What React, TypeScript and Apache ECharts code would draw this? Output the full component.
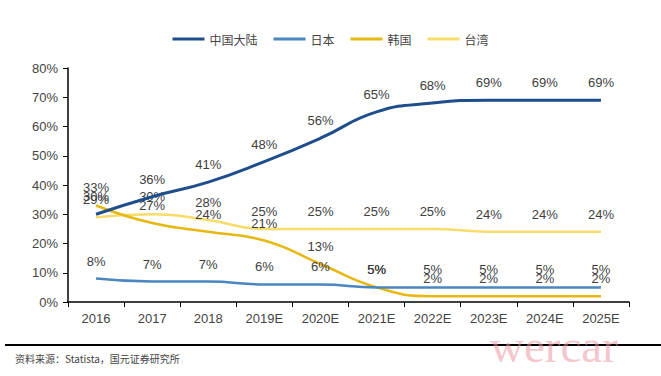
import React, { useEffect, useRef } from "react";
import * as echarts from "echarts";

const categories = ["2016", "2017", "2018", "2019E", "2020E", "2021E", "2022E", "2023E", "2024E", "2025E"];
const chinaMainland = [30, 36, 41, 48, 56, 65, 68, 69, 69, 69];
const japan = [8, 7, 7, 6, 6, 5, 5, 5, 5, 5];
const korea = [33, 27, 24, 21, 13, 5, 2, 2, 2, 2];
const taiwan = [29, 30, 28, 25, 25, 25, 25, 24, 24, 24];
const seriesNames = ["中国大陆", "日本", "韩国", "台湾"];
const seriesColors = ["#1F4E8C", "#4A86C0", "#E8B812", "#F7DC6A"];
const sourceText = "资料来源：Statista，国元证券研究所";

export default function App() {
  const ref = useRef<HTMLDivElement>(null);
  useEffect(() => {
    document.body.style.margin = "0";
    const chart = echarts.init(ref.current!, null, { renderer: "svg" });
    const font = "Liberation Sans, Arial, sans-serif";
    const data = [chinaMainland, japan, korea, taiwan];
    chart.setOption({
      animation: false,
      backgroundColor: "#fff",
      legend: {
        top: 28,
        left: "center",
        itemWidth: 32,
        itemHeight: 3,
        itemGap: 16,
        icon: "rect",
        textStyle: { fontSize: 12, color: "#444", fontFamily: "Noto Sans CJK SC" },
        data: seriesNames,
      },
      grid: { left: 68, right: 32, top: 68, bottom: 74 },
      xAxis: {
        type: "category",
        data: categories,
        axisLine: { lineStyle: { color: "#000", width: 1.5 } },
        axisTick: { show: true, length: 5, lineStyle: { color: "#000" } },
        axisLabel: { fontSize: 13, color: "#444", fontFamily: font, margin: 10 },
      },
      yAxis: {
        type: "value",
        min: 0,
        max: 80,
        interval: 10,
        splitLine: { show: false },
        axisLine: { show: true, lineStyle: { color: "#000", width: 1.5 } },
        axisTick: { show: true, length: 5, lineStyle: { color: "#000" } },
        axisLabel: { formatter: "{value}%", fontSize: 13, color: "#444", fontFamily: font, margin: 10 },
      },
      series: seriesNames.map((name, i) => ({
        name,
        type: "line",
        data: data[i],
        smooth: 0.5,
        symbol: "circle",
        symbolSize: 0,
        showSymbol: true,
        color: seriesColors[i],
        lineStyle: { width: i === 0 ? 3 : 2.5, color: seriesColors[i] },
        label: {
          show: true,
          position: "top",
          distance: 11,
          formatter: "{c}%",
          fontSize: 13,
          color: "#404040",
          fontFamily: font,
        },
        z: 10 - i,
      })),
      graphic: [
        { type: "line", shape: { x1: 5, y1: 345, x2: 661, y2: 345 }, style: { stroke: "#000", lineWidth: 2 } },
        {
          type: "text",
          left: 15,
          top: 353,
          style: { text: sourceText, fontSize: 10, fill: "#444", fontFamily: "Noto Sans CJK SC" },
        },
        {
          type: "text",
          left: 490,
          top: 322,
          style: { text: "wercar", fontSize: 47, fill: "rgba(235,150,160,0.55)", fontFamily: "Liberation Serif, serif" },
          z: 100,
        },
      ],
    });
    return () => chart.dispose();
  }, []);
  return <div ref={ref} style={{ width: 661, height: 376, position: "absolute", left: 0, top: 0 }} />;
}
